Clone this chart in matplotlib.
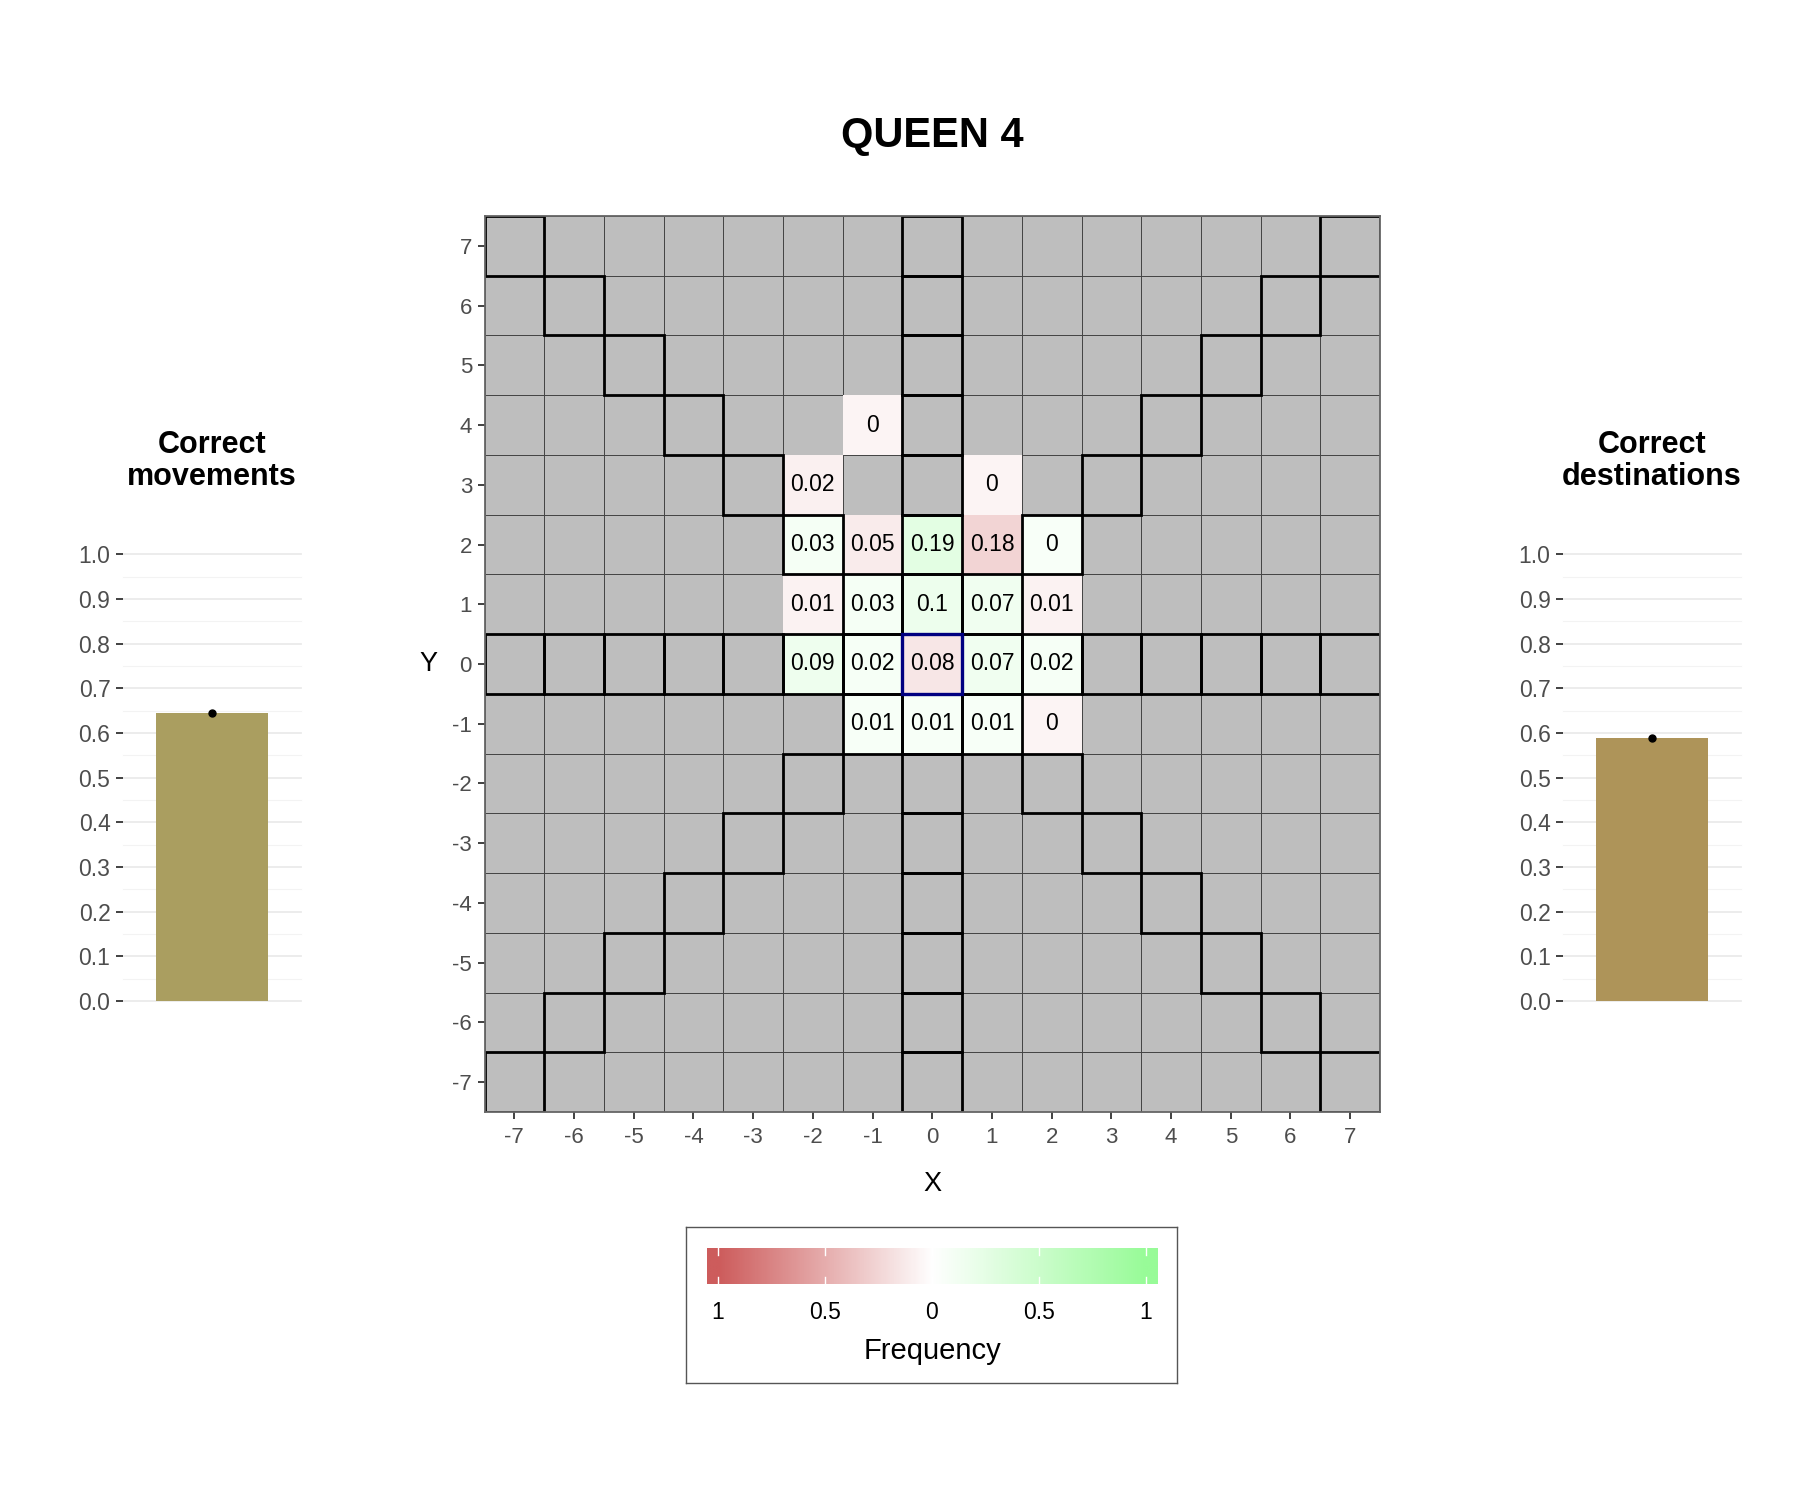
import numpy as np
import matplotlib
matplotlib.use("Agg")
import matplotlib.pyplot as plt
from matplotlib.colors import LinearSegmentedColormap
from matplotlib.patches import Rectangle

plt.rcParams['font.family'] = ['Liberation Sans', 'DejaVu Sans']

# ---------------- data ----------------
title = "QUEEN 4"
board = list(range(-7, 8))
cell_x = [-1, -2, 1, -2, -1, 0, 1, 2, -2, -1, 0, 1, 2, -2, -1, 0, 1, 2, -1, 0, 1, 2]
cell_y = [4, 3, 3, 2, 2, 2, 2, 2, 1, 1, 1, 1, 1, 0, 0, 0, 0, 0, -1, -1, -1, -1]
cell_freq = [0, 0.02, 0, 0.03, 0.05, 0.19, 0.18, 0, 0.01, 0.03, 0.1, 0.07, 0.01,
             0.09, 0.02, 0.08, 0.07, 0.02, 0.01, 0.01, 0.01, 0]
legend_ticks = [-1, -0.5, 0, 0.5, 1]
legend_labels = ["1", "0.5", "0", "0.5", "1"]
side_titles = ["Correct\nmovements", "Correct\ndestinations"]
side_values = [0.645, 0.59]
side_colors = ["#AA9E60", "#AE9459"]

# ---------------- helpers ----------------
def is_legal(x, y):
    if x == 0 and y == 0:
        return False
    return x == 0 or y == 0 or abs(x) == abs(y)

cmap = LinearSegmentedColormap.from_list("fq", ["indianred", "white", "palegreen"])

def cell_color(x, y, f):
    s = 1 if is_legal(x, y) else -1
    t = s * min(1.0, 0.07 + 1.05 * f)
    return cmap((t + 1) / 2)

W, H = 1800, 1500
fig = plt.figure(figsize=(18, 15), dpi=100)

def fx(px):
    return px / W

def fy(py):
    return 1 - py / H

# ---------------- main board ----------------
L, R, T, B = 484.5, 1380, 216, 1112
ax = fig.add_axes([fx(L), fy(B), fx(R - L), (B - T) / H])
ax.set_xlim(-7.5, 7.5)
ax.set_ylim(-7.5, 7.5)

for gx in board:
    for gy in board:
        ax.add_patch(Rectangle((gx - 0.5, gy - 0.5), 1, 1, facecolor="#BEBEBE",
                               edgecolor="#3a3a3a", lw=0.6, zorder=1))

for x, y, f in zip(cell_x, cell_y, cell_freq):
    ax.add_patch(Rectangle((x - 0.5, y - 0.5), 1, 1, facecolor=cell_color(x, y, f),
                           edgecolor="none", zorder=2))
    ax.text(x, y, f"{f:g}", ha="center", va="center", fontsize=16.5, color="black", zorder=5)

for gx in board:
    for gy in board:
        if is_legal(gx, gy):
            ax.add_patch(Rectangle((gx - 0.5, gy - 0.5), 1, 1, facecolor="none",
                                   edgecolor="black", lw=2.0, zorder=3))
ax.add_patch(Rectangle((-0.5, -0.5), 1, 1, facecolor="none", edgecolor="#000080",
                       lw=2.4, zorder=4))

ax.set_xticks(board)
ax.set_yticks(board)
ax.set_xticklabels([str(v) for v in board])
ax.set_yticklabels([str(v) for v in board])
ax.tick_params(axis="both", length=5, width=1.3, color="#333333", labelsize=16,
               labelcolor="#4D4D4D")
ax.tick_params(axis="x", pad=6)
ax.tick_params(axis="y", pad=4)
for sp in ax.spines.values():
    sp.set_color("#666666")
    sp.set_linewidth(1.3)
    sp.set_zorder(6)
ax.set_xlabel("X", fontsize=19.5)
ax.set_ylabel("Y", fontsize=19.5, rotation=0)
ax.xaxis.set_label_coords(0.5, -0.08)
ax.yaxis.set_label_coords(-0.063, 0.5)
ax.xaxis.label.set_va("center")
ax.yaxis.label.set_va("center")
ax.yaxis.label.set_ha("center")

fig.text(fx(932), fy(136), title, ha="center", va="center", fontsize=30, fontweight="bold")

# ---------------- side bars ----------------
side_left = [123, 1563]
s_bot, s_top = 1001, 554.5
for i in range(2):
    l = side_left[i]
    sax = fig.add_axes([fx(l), fy(s_bot), fx(178), (s_bot - s_top) / H])
    sax.set_xlim(0.4, 1.6)
    sax.set_ylim(0, 1.0)
    for v in np.arange(0.05, 1.0, 0.1):
        sax.axhline(v, color="#F3F3F3", lw=0.8, zorder=0, clip_on=False)
    for v in np.arange(0, 1.01, 0.1):
        sax.axhline(v, color="#EBEBEB", lw=1.3, zorder=0, clip_on=False)
    sax.bar([1], [side_values[i]], width=0.75, color=side_colors[i], zorder=2)
    sax.plot([1], [side_values[i]], "o", color="black", markersize=5, zorder=3, clip_on=False)
    sax.set_xticks([])
    yt = np.round(np.arange(0, 1.01, 0.1), 1)
    sax.set_yticks(yt)
    sax.set_yticklabels([f"{v:.1f}" for v in yt])
    sax.tick_params(axis="y", length=5, width=1.3, color="#333333", labelsize=16.5,
                    labelcolor="#4D4D4D", pad=4)
    for sp in sax.spines.values():
        sp.set_visible(False)
    sax.set_facecolor("none")
    fig.text(fx(l + 89), fy(461), side_titles[i], ha="center", va="center",
             fontsize=22, fontweight="bold", linespacing=1.1)

# ---------------- legend ----------------
lbox = fig.add_axes([fx(686), fy(1383), fx(491), 156 / H], zorder=0)
lbox.set_xticks([])
lbox.set_yticks([])
for sp in lbox.spines.values():
    sp.set_color("#555555")
    sp.set_linewidth(1.0)

cax = fig.add_axes([fx(706.7), fy(1284), fx(450.3), 36 / H], zorder=2)
ext = 1.053
grad = np.clip(np.linspace(-ext, ext, 600), -1, 1)
cax.imshow(((grad + 1) / 2)[None, :], cmap=cmap, vmin=0, vmax=1, aspect="auto",
           extent=[-ext, ext, 0, 1])
cax.set_xlim(-ext, ext)
cax.set_ylim(0, 1)
for t in legend_ticks:
    cax.plot([t, t], [0, 0.2], color="white", lw=1.0)
    cax.plot([t, t], [0.8, 1], color="white", lw=1.0)
cax.set_xticks(legend_ticks)
cax.set_xticklabels(legend_labels)
cax.set_yticks([])
cax.tick_params(axis="x", length=0, labelsize=16.5, labelcolor="black", pad=12)
for sp in cax.spines.values():
    sp.set_visible(False)
fig.text(fx(932), fy(1351), "Frequency", ha="center", va="center", fontsize=21)

fig.savefig("out.png", dpi=100)
